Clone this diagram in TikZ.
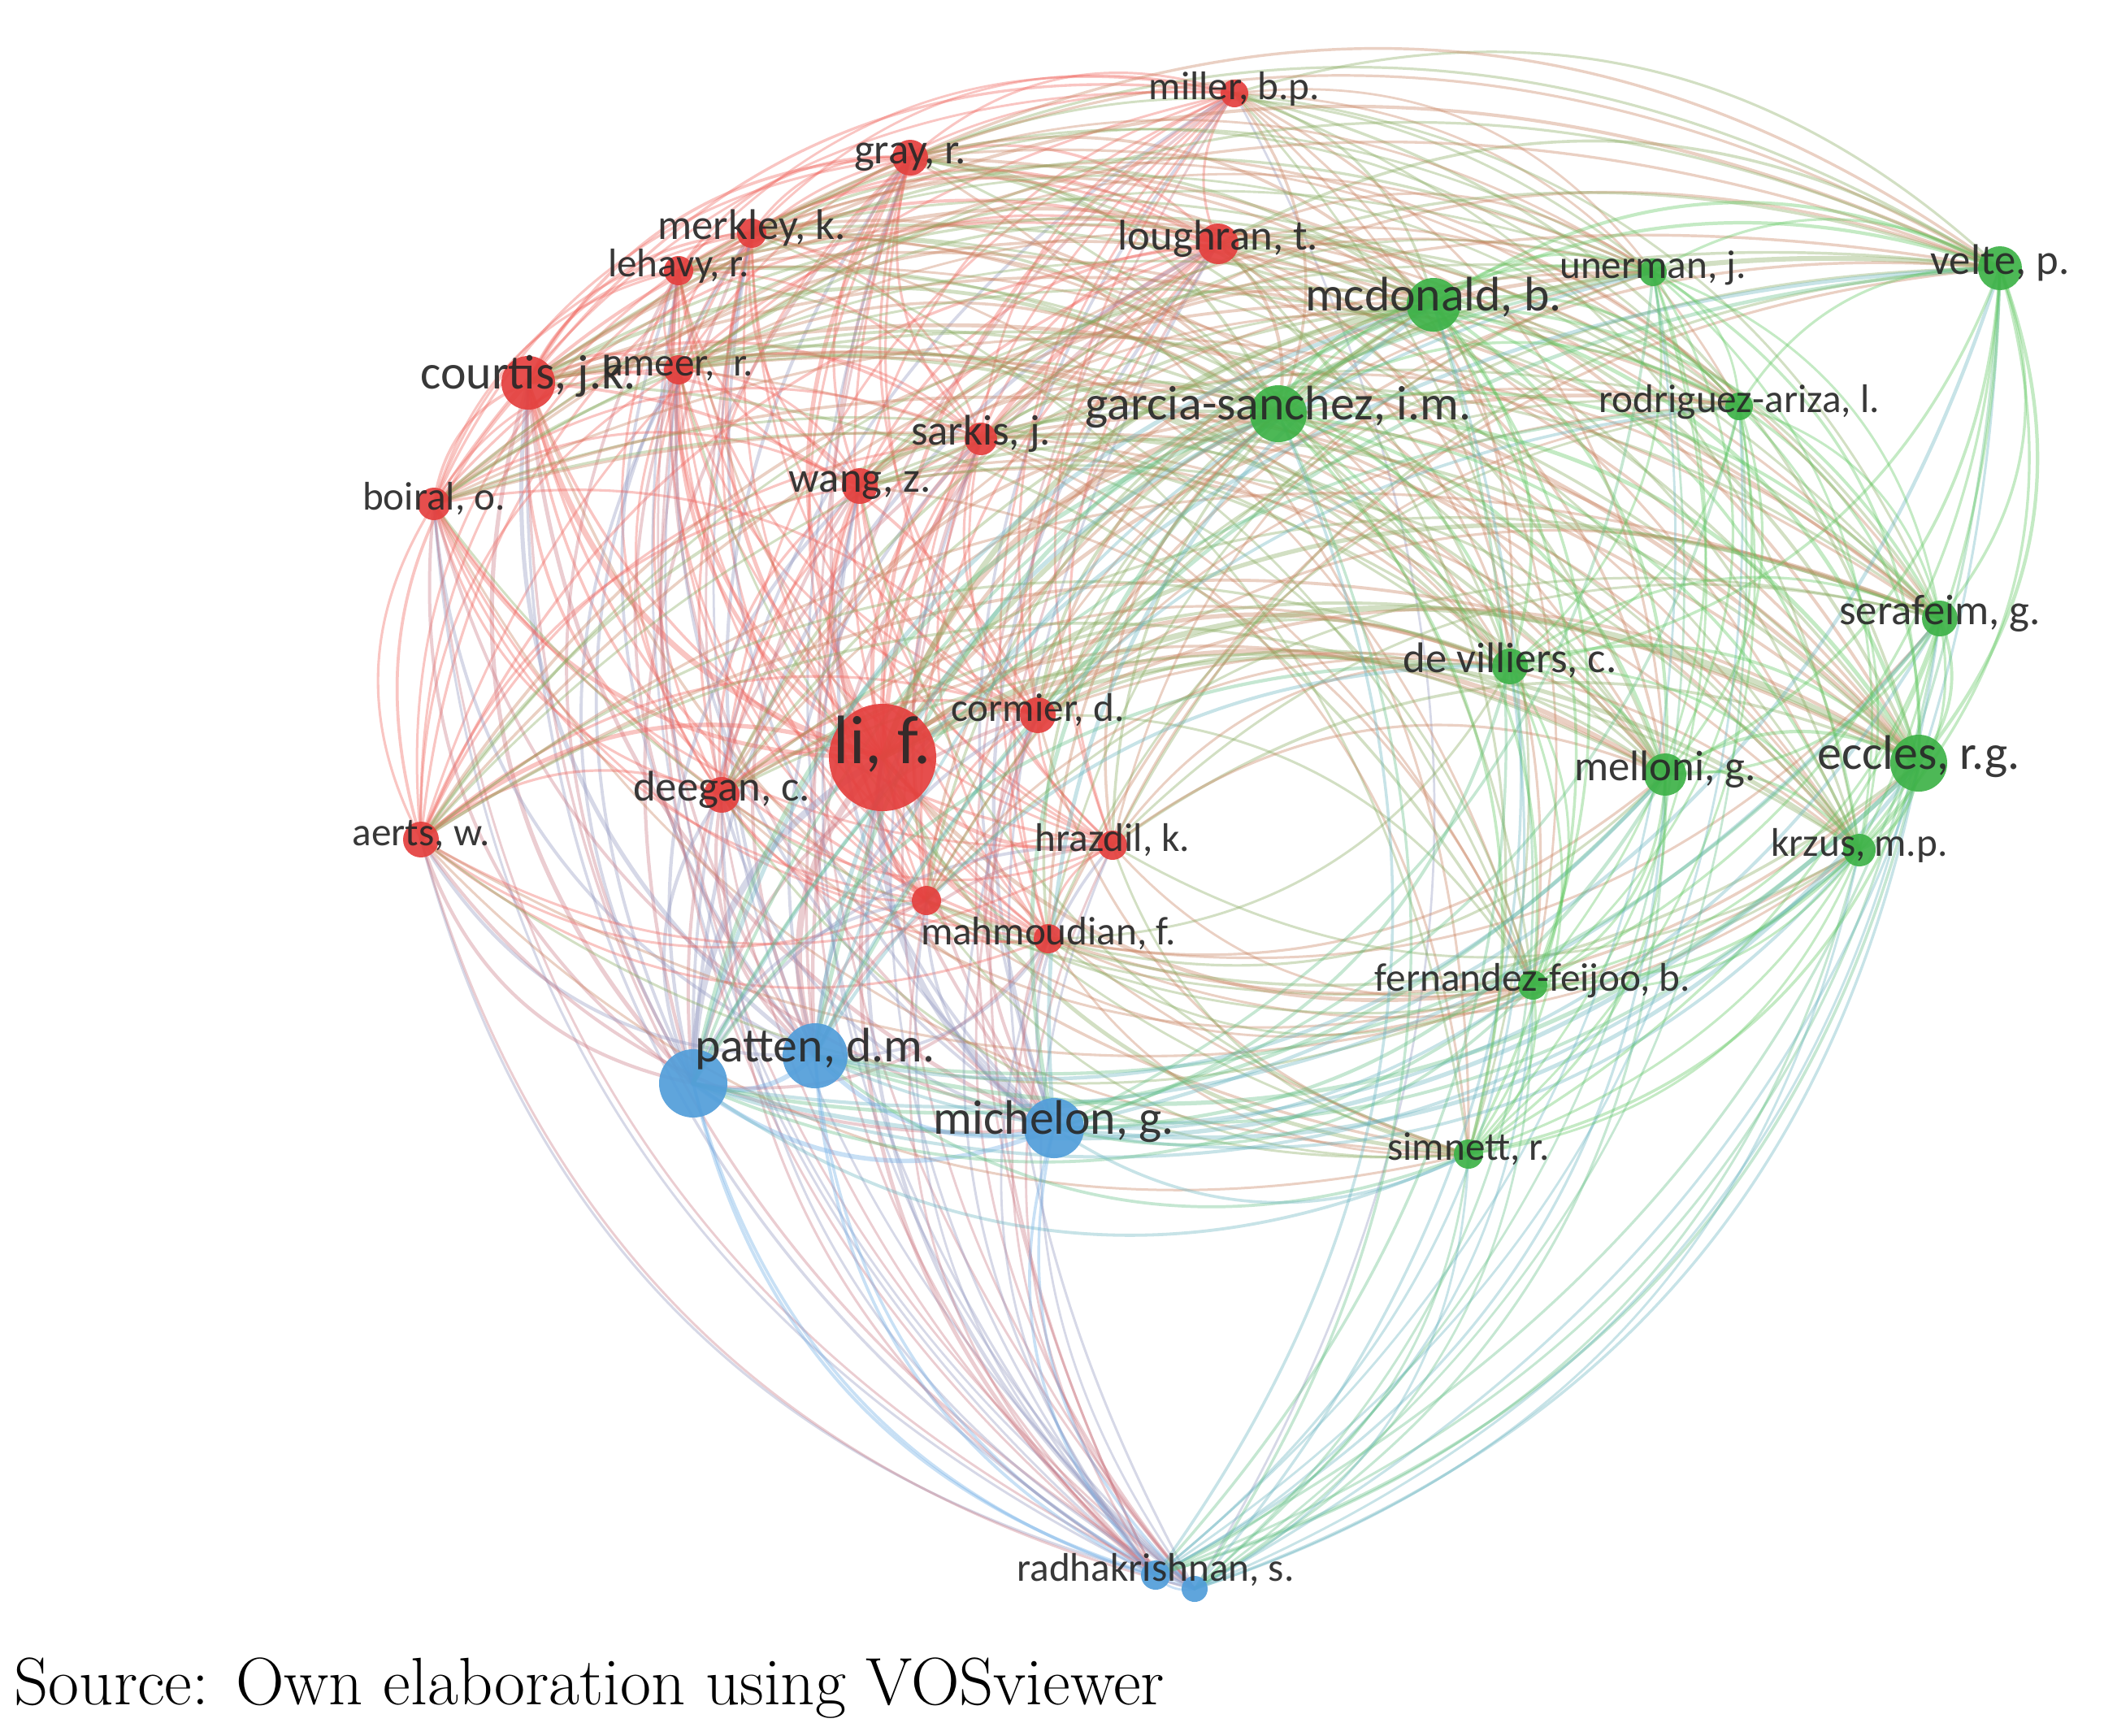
\documentclass[tikz,border=0pt]{standalone}
\usepackage{fontspec}
\newfontfamily\labfont{Carlito}
\pgfdeclarelayer{edgelayer}
\pgfsetlayers{edgelayer,main}
\definecolor{cR}{RGB}{228,64,62}
\definecolor{cG}{RGB}{62,178,72}
\definecolor{cB}{RGB}{82,158,218}
\definecolor{cRe}{RGB}{240,96,88}
\definecolor{cGe}{RGB}{92,198,92}
\definecolor{cBe}{RGB}{105,170,230}
\definecolor{labc}{RGB}{40,40,40}
\newcommand\vosnodes{%
miller/15.19/-1.15/0.34/cR,
gray/11.20/-1.94/0.44/cR,
merkley/9.25/-2.87/0.36/cR,
lehavy/8.35/-3.33/0.36/cR,
loughran/14.99/-3.00/0.50/cR,
courtis/6.50/-4.71/0.66/cR,
ameer/8.35/-4.55/0.36/cR,
sarkis/12.07/-5.40/0.40/cR,
wang/10.58/-5.98/0.44/cR,
boiral/5.34/-6.20/0.40/cR,
li/10.86/-9.32/1.32/cR,
cormier/12.77/-8.80/0.44/cR,
deegan/8.88/-9.78/0.44/cR,
aerts/5.18/-10.33/0.44/cR,
hrazdil/13.69/-10.40/0.36/cR,
mahmoudian/12.90/-11.55/0.36/cR,
redx/11.40/-11.08/0.36/cR,
pattena/8.53/-13.33/0.84/cB,
patten/10.03/-12.99/0.80/cB,
michelon/12.97/-13.88/0.74/cB,
radhakrishnan/14.22/-19.38/0.36/cB,
radhb/14.70/-19.55/0.32/cB,
garcia/15.73/-5.09/0.70/cG,
mcdonald/17.64/-3.75/0.66/cG,
unerman/20.34/-3.35/0.34/cG,
velte/24.61/-3.30/0.54/cG,
rodriguez/21.40/-5.00/0.34/cG,
serafeim/23.87/-7.61/0.44/cG,
devilliers/18.58/-8.20/0.44/cG,
eccles/23.61/-9.39/0.70/cG,
melloni/20.49/-9.53/0.52/cG,
krzus/22.88/-10.46/0.40/cG,
fernandez/18.86/-12.12/0.36/cG,
simnett/18.07/-14.20/0.36/cG}
\tikzset{
  vnode/.style={circle, inner sep=0pt, draw=none, fill opacity=0.92},
  lab/.style={anchor=mid, inner sep=0pt, text=labc, text opacity=0.92},
  labxl/.style={lab, font=\labfont\fontsize{24}{24}\selectfont},
  labl/.style={lab, font=\labfont\fontsize{17}{17}\selectfont},
  labm/.style={lab, font=\labfont\fontsize{15}{15}\selectfont},
  labs/.style={lab, font=\labfont\fontsize{14}{14}\selectfont},
  vedge/.style={draw opacity=0.36, line cap=round}
}
\begin{document}
\begin{tikzpicture}
\useasboundingbox (0,0) rectangle (25.89,-21.35);
% nodes
\foreach \n/\x/\y/\d/\c in \vosnodes {
  \node[vnode, minimum size=\d cm, fill=\c] (\n) at (\x,\y) {};
}
% edges
\begin{pgfonlayer}{edgelayer}
\fill[white] (0,0) rectangle (25.89,-21.35);
\foreach \na/\xa/\ya/\da/\ca [count=\i] in \vosnodes {
  \foreach \nb/\xb/\yb/\db/\cb [count=\j] in \vosnodes {
    \ifnum\j>\i\relax
      \pgfmathsetmacro\vcrs{(\xa-14.9)*(\yb+10.3)-(\ya+10.3)*(\xb-14.9)}
      \pgfmathsetmacro\ewid{0.6+\da*\db*1.6}
      \pgfmathtruncatemacro\epar{mod(\i+\j,2)}
      \ifnum\epar=0\relax
        \edef\ecol{\ca e!72!\cb e}%
      \else
        \edef\ecol{\cb e!72!\ca e}%
      \fi
      \ifdim\vcrs pt<0pt
        \draw[vedge, line width=\ewid pt, draw=\ecol] (\na.center) to[bend left=30] (\nb.center);
      \else
        \draw[vedge, line width=\ewid pt, draw=\ecol] (\nb.center) to[bend left=30] (\na.center);
      \fi
    \fi
  }
}
\end{pgfonlayer}
% labels
\node[labs] (l-miller) at (miller) {miller, b.p.};
\node[labm] (l-gray) at (gray) {gray, r.};
\node[labm] (l-merkley) at (merkley) {merkley, k.};
\node[labs] (l-lehavy) at (lehavy) {lehavy, r.};
\node[labm] (l-loughran) at (loughran) {loughran, t.};
\node[labl] (l-courtis) at (courtis) {courtis, j.k.};
\node[labs] (l-ameer) at (ameer) {ameer,\ \ r.};
\node[labm] (l-sarkis) at (sarkis) {sarkis, j.};
\node[labm] (l-wang) at (wang) {wang, z.};
\node[labs] (l-boiral) at (boiral) {boiral, o.};
\node[labxl] (l-li) at (li) {li, f.};
\node[labs] (l-cormier) at (cormier) {cormier, d.};
\node[labm] (l-deegan) at (deegan) {deegan, c.};
\node[labs] (l-aerts) at (aerts) {aerts, w.};
\node[labs] (l-hrazdil) at (hrazdil) {hrazdil, k.};
\node[labs] (l-mahmoudian) at (mahmoudian) {mahmoudian, f.};
\node[labl] (l-patten) at (patten) {patten, d.m.};
\node[labl] (l-michelon) at (michelon) {michelon, g.};
\node[labs] (l-radhakrishnan) at (radhakrishnan) {radhakrishnan, s.};
\node[labl] (l-garcia) at (garcia) {garcia-sanchez, i.m.};
\node[labl] (l-mcdonald) at (mcdonald) {mcdonald, b.};
\node[labs] (l-unerman) at (unerman) {unerman, j.};
\node[labm] (l-velte) at (velte) {velte, p.};
\node[labs] (l-rodriguez) at (rodriguez) {rodriguez-ariza, l.};
\node[labm] (l-serafeim) at (serafeim) {serafeim, g.};
\node[labm] (l-devilliers) at (devilliers) {de villiers, c.};
\node[labl] (l-eccles) at (eccles) {eccles, r.g.};
\node[labm] (l-melloni) at (melloni) {melloni, g.};
\node[labs] (l-krzus) at (krzus) {krzus, m.p.};
\node[labs] (l-fernandez) at (fernandez) {fernandez-feijoo, b.};
\node[labs] (l-simnett) at (simnett) {simnett, r.};
% caption
\node[anchor=base west, inner sep=0pt, font=\fontsize{23.5}{23.5}\selectfont] (caption) at (0.17,-20.97) {Source: Own elaboration using VOSviewer};
\end{tikzpicture}
\end{document}
